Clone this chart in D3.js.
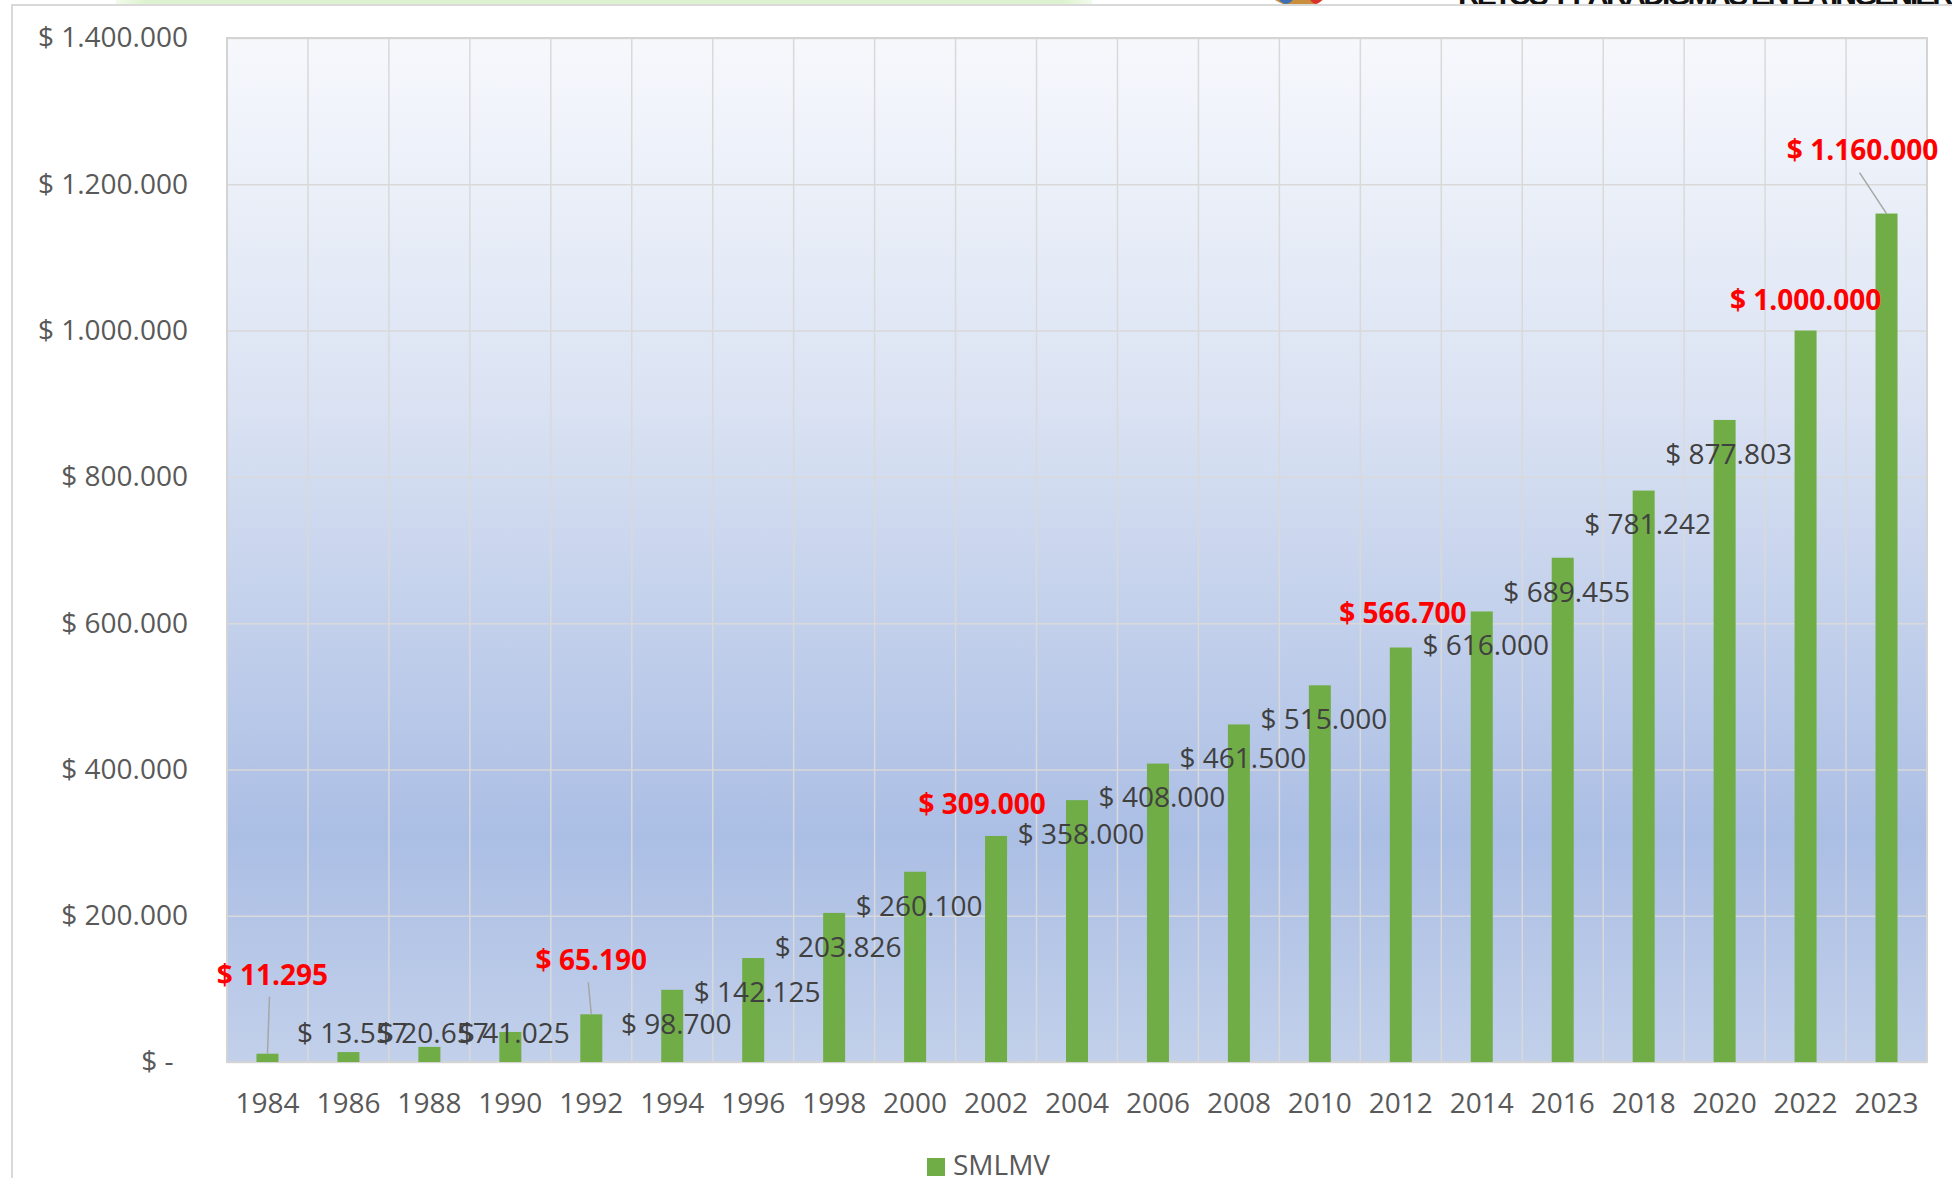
<!DOCTYPE html>
<html lang="es">
  <head>
    <meta charset="UTF-8" />
    <meta name="viewport" content="width=device-width, initial-scale=1.0" />
    <title>SMLMV</title>
    <style>
      body {
        margin: 0;
        background: #fff;
      }
      svg text {
        font-family: 'Open Sans', sans-serif;
      }
      g.grid path,
      g.axis path,
      g.axis line {
        display: none;
      }
      g.grid line {
        stroke: #d9d9d9;
        stroke-width: 1.5;
      }
      g.axis text {
        fill: #595959;
        font-size: 28px;
      }
    </style>
  </head>
  <body>
    <div class="chart"></div>

    <script src="https://d3js.org/d3.v7.min.js"></script>

    <script>
      // datos =================================================================
      const years = ['1984', '1986', '1988', '1990', '1992', '1994', '1996', '1998', '2000', '2002',
        '2004', '2006', '2008', '2010', '2012', '2014', '2016', '2018', '2020', '2022', '2023']
      const smlmv = [11295, 13557, 20657, 41025, 65190, 98700, 142125, 203826, 260100, 309000,
        358000, 408000, 461500, 515000, 566700, 616000, 689455, 781242, 877803, 1000000, 1160000]
      const yTicks = [0, 200000, 400000, 600000, 800000, 1000000, 1200000, 1400000]
      const highlighted = ['1984', '1992', '2002', '2012', '2022', '2023']
      const seriesName = 'SMLMV'

      // etiquetas rojas movidas a mano en el original: [dx, dy, línea guía]
      const redOffset = {
        1984: [5, -79, true],
        1992: [0, -54, true],
        2002: [-14, -32, false],
        2012: [2, -34, false],
        2022: [0, -30, false],
        2023: [-24, -63, true]
      }

      const width = 1952
      const height = 1178
      const plot = { left: 227, right: 1927, top: 38, bottom: 1062 }

      // formato pesos: $ 1.160.000
      const locale = d3.formatLocale({ decimal: ',', thousands: '.', grouping: [3], currency: ['$ ', ''] })
      const money = (d) => d === 0 ? '$ -\u00a0\u00a0' : locale.format('$,')(d)

      const svg = d3.select('.chart')
        .append('svg')
        .attr('width', width)
        .attr('height', height)

      // restos de la diapositiva arriba ==========================================
      const defs = svg.append('defs')
      const glow = defs.append('linearGradient').attr('id', 'glow')
      glow.append('stop').attr('offset', '0%').attr('stop-color', '#f2fbec')
      glow.append('stop').attr('offset', '3%').attr('stop-color', '#ddf3cf')
      glow.append('stop').attr('offset', '97%').attr('stop-color', '#ddf3cf')
      glow.append('stop').attr('offset', '100%').attr('stop-color', '#f2fbec')
      svg.append('rect').attr('x', 116).attr('y', 0).attr('width', 976).attr('height', 6).attr('fill', 'url(#glow)')
      svg.append('ellipse').attr('cx', 1299).attr('cy', -30).attr('rx', 41).attr('ry', 37).attr('fill', '#c98e3e')
      svg.append('ellipse').attr('cx', 1286).attr('cy', -28).attr('rx', 14).attr('ry', 32).attr('fill', '#3d6fb6')
      svg.append('ellipse').attr('cx', 1316).attr('cy', -28).attr('rx', 12).attr('ry', 32).attr('fill', '#d8322b')
      svg.append('text')
        .attr('x', 1458)
        .attr('y', 5)
        .attr('textLength', 520)
        .style('font-family', "'Liberation Sans Narrow', 'Liberation Sans', sans-serif")
        .style('font-weight', 'bold')
        .style('font-size', '30px')
        .attr('fill', '#111')
        .text('RETOS Y PARADIGMAS EN LA INGENIERÍA')

      // marco del gráfico
      svg.append('rect')
        .attr('x', 12)
        .attr('y', 5)
        .attr('width', width)
        .attr('height', height)
        .attr('fill', '#fff')
        .attr('stroke', '#d9d9d9')
        .attr('stroke-width', 2)

      // escalas ================================================================
      const x = d3.scaleBand()
        .domain(years)
        .range([plot.left, plot.right])
        .padding(0)

      const y = d3.scaleLinear()
        .domain([0, 1400000])
        .range([plot.bottom, plot.top])

      const barW = 22

      // fondo degradado del área de trazado
      const bg = defs.append('linearGradient')
        .attr('id', 'bg')
        .attr('x1', 0).attr('y1', 0).attr('x2', 0).attr('y2', 1)
      bg.append('stop').attr('offset', '0%').attr('stop-color', '#f6f8fc')
      bg.append('stop').attr('offset', '35%').attr('stop-color', '#dbe3f3')
      bg.append('stop').attr('offset', '78%').attr('stop-color', '#abbee4')
      bg.append('stop').attr('offset', '100%').attr('stop-color', '#c2d0ea')

      svg.append('rect')
        .attr('x', plot.left)
        .attr('y', plot.top)
        .attr('width', plot.right - plot.left)
        .attr('height', plot.bottom - plot.top)
        .attr('fill', 'url(#bg)')

      // líneas de cuadrícula horizontales
      svg.append('g')
        .attr('class', 'grid')
        .attr('transform', `translate(${plot.left}, 0)`)
        .call(d3.axisLeft(y).tickValues(yTicks).tickSize(-(plot.right - plot.left)).tickFormat(''))

      // líneas de cuadrícula verticales (entre categorías)
      svg.append('g')
        .attr('class', 'grid')
        .selectAll('line')
        .data(years.slice(1))
        .join('line')
        .attr('x1', (d) => x(d))
        .attr('x2', (d) => x(d))
        .attr('y1', plot.top)
        .attr('y2', plot.bottom)

      svg.append('rect')
        .attr('x', plot.left)
        .attr('y', plot.top)
        .attr('width', plot.right - plot.left)
        .attr('height', plot.bottom - plot.top)
        .attr('fill', 'none')
        .attr('stroke', '#d4d4d4')
        .attr('stroke-width', 2)

      // ejes ===================================================================
      svg.append('g')
        .attr('class', 'axis')
        .attr('transform', `translate(${plot.left}, 0)`)
        .call(d3.axisLeft(y).tickValues(yTicks).tickSize(0).tickPadding(39).tickFormat(money))
        .selectAll('text')
        .style('white-space', 'pre')

      svg.append('g')
        .attr('class', 'axis')
        .attr('transform', `translate(0, ${plot.bottom})`)
        .call(d3.axisBottom(x).tickSize(0))
        .selectAll('text')
        .attr('y', 41)
        .attr('dy', '0.35em')

      // barras =================================================================
      const data = years.map((yr, i) => ({ year: yr, value: smlmv[i] }))
      const cx = (d) => x(d.year) + x.bandwidth() / 2

      svg.append('g')
        .selectAll('rect')
        .data(data)
        .join('rect')
        .attr('x', (d) => cx(d) - barW / 2)
        .attr('y', (d) => y(d.value))
        .attr('width', barW)
        .attr('height', (d) => y(0) - y(d.value))
        .attr('fill', '#70ad47')

      // etiquetas grises
      svg.append('g')
        .selectAll('text')
        .data(data.filter((d) => !highlighted.includes(d.year)))
        .join('text')
        .attr('x', (d) => cx(d) + 4)
        .attr('y', (d) => Math.min(y(d.value) + 34, plot.bottom - 29))
        .attr('dy', '0.35em')
        .attr('text-anchor', 'middle')
        .attr('fill', '#404040')
        .style('font-size', '28px')
        .text((d) => money(d.value))

      // etiquetas rojas con línea guía
      const red = data.filter((d) => highlighted.includes(d.year))

      svg.append('g')
        .selectAll('line')
        .data(red.filter((d) => redOffset[d.year][2]))
        .join('line')
        .attr('x1', (d) => cx(d) + redOffset[d.year][0] - 3)
        .attr('y1', (d) => y(d.value) + redOffset[d.year][1] + 22)
        .attr('x2', (d) => cx(d))
        .attr('y2', (d) => y(d.value))
        .attr('stroke', '#a6a6a6')
        .attr('stroke-width', 1.5)

      svg.append('g')
        .selectAll('text')
        .data(red)
        .join('text')
        .attr('x', (d) => cx(d) + redOffset[d.year][0])
        .attr('y', (d) => y(d.value) + redOffset[d.year][1])
        .attr('dy', '0.35em')
        .attr('text-anchor', 'middle')
        .attr('fill', '#ff0000')
        .style('font-size', '28px')
        .style('font-weight', 'bold')
        .text((d) => money(d.value))

      // leyenda
      const legend = svg.append('g')
      legend.append('rect')
        .attr('x', 927)
        .attr('y', 1158)
        .attr('width', 18)
        .attr('height', 18)
        .attr('fill', '#70ad47')
      legend.append('text')
        .attr('x', 953)
        .attr('y', 1175)
        .attr('fill', '#595959')
        .style('font-size', '28px')
        .text(seriesName)
    </script>
  </body>
</html>
